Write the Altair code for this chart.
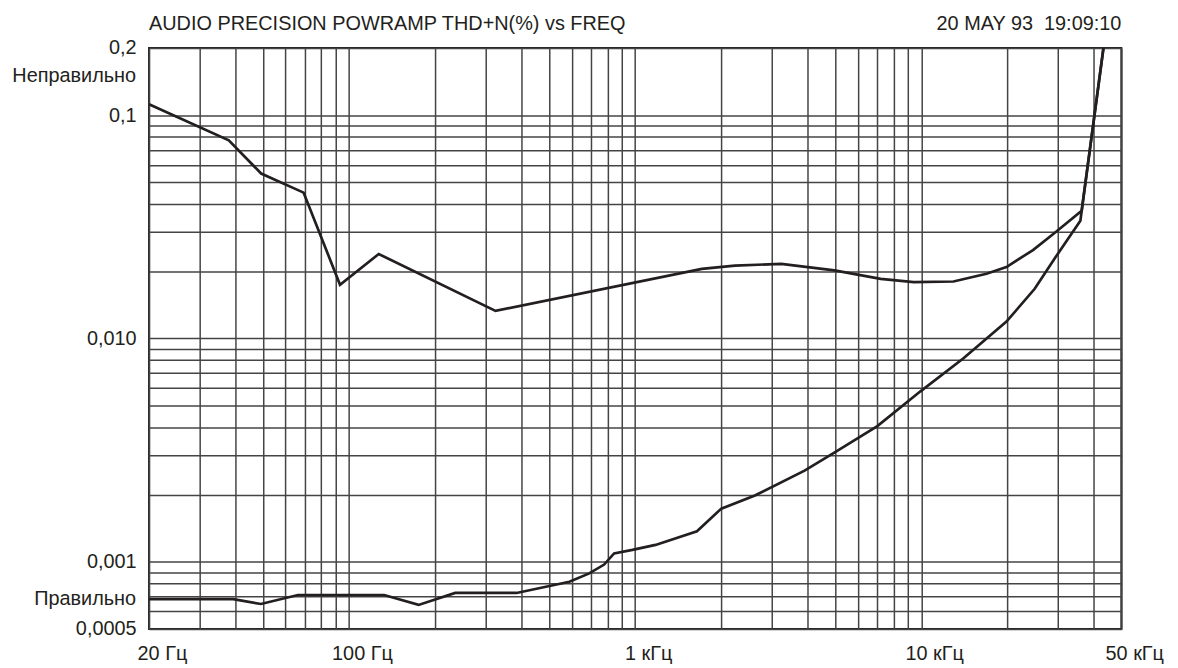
import altair as alt
import pandas as pd

# ---- data ----
upper_freq = [20, 38, 49.3, 69.4, 93, 127, 325, 1710, 2230, 3240, 4970, 7210, 9410,
              12950, 16900, 19840, 24560, 29430, 36330, 43300]
upper_thd = [0.112, 0.0772, 0.0548, 0.045, 0.0174, 0.0239, 0.0133, 0.0205, 0.0212, 0.0216,
             0.0202, 0.0185, 0.0179, 0.0180, 0.0195, 0.0209, 0.0249, 0.0299, 0.0373, 0.2]

lower_freq = [20, 39.4, 49.2, 66.3, 132.6, 175, 235, 385, 589, 691, 779, 844, 978, 1178,
              1644, 2000, 2620, 3908, 4966, 7020, 9931, 14040, 19840, 24900, 29430, 35960, 43300]
lower_thd = [0.00068, 0.00068, 0.000647, 0.00071, 0.00071, 0.000641, 0.000725, 0.000725,
             0.000814, 0.000887, 0.000972, 0.00109, 0.00113, 0.00119, 0.00137, 0.00173,
             0.00198, 0.00256, 0.00308, 0.00405, 0.0058, 0.00816, 0.0119, 0.0167, 0.0231,
             0.0337, 0.2]

x_grid = [20, 30, 40, 50, 60, 70, 80, 90, 100, 200, 300, 400, 500, 600, 700, 800, 900,
          1000, 2000, 3000, 4000, 5000, 6000, 7000, 8000, 9000, 10000, 20000, 30000, 40000, 50000]
y_grid = [0.0005, 0.0006, 0.0007, 0.0008, 0.0009, 0.001, 0.002, 0.003, 0.004, 0.005, 0.006,
          0.007, 0.008, 0.009, 0.01, 0.02, 0.03, 0.04, 0.05, 0.06, 0.07, 0.08, 0.09, 0.1, 0.2]

x_label_values = [20, 100, 1000, 10000, 50000]
x_label_texts = ["20 Гц", "100 Гц", "1 кГц", "10 кГц", "50 кГц"]
y_label_values = [0.2, 0.1, 0.01, 0.001, 0.0005]
y_label_texts = ["0,2", "0,1", "0,010", "0,001", "0,0005"]
side_label_values = [0.15, 0.00068]
side_label_texts = ["Неправильно", "Правильно"]
title_text = "AUDIO PRECISION POWRAMP THD+N(%) vs FREQ"
date_text = "20 MAY 93\u00a0\u00a019:09:10"

FONT = "Liberation Sans Narrow, Liberation Sans, Arial, sans-serif"
INK = "#231f20"
FS = 20


def label_expr(vals, texts):
    parts = [f"datum.value == {v} ? '{t}'" for v, t in zip(vals, texts)]
    return " : ".join(parts) + " : ''"


lines_df = pd.DataFrame({
    "freq": upper_freq + lower_freq,
    "thd": upper_thd + lower_thd,
    "series": ["upper"] * len(upper_freq) + ["lower"] * len(lower_freq),
})
side_df = pd.DataFrame({"thd": side_label_values, "label": side_label_texts})

xscale = alt.Scale(type="log", domain=[20, 50000], nice=False)
yscale = alt.Scale(type="log", domain=[0.0005, 0.2], nice=False)

x_axis = alt.Axis(values=x_grid, labelExpr=label_expr(x_label_values, x_label_texts),
                  title=None, labelAlign="center", labelOffset=13, labelPadding=15,
                  labelBaseline="top")
y_axis = alt.Axis(values=y_grid, labelExpr=label_expr(y_label_values, y_label_texts),
                  title=None, labelPadding=13, labelBaseline="middle")

lines = alt.Chart(lines_df).mark_line(color=INK, strokeWidth=2.7, clip=True).encode(
    x=alt.X("freq:Q", scale=xscale, axis=x_axis),
    y=alt.Y("thd:Q", scale=yscale, axis=y_axis),
    detail="series:N",
    order="freq:Q",
)

side = alt.Chart(side_df).mark_text(align="right", baseline="middle", font=FONT,
                                    fontSize=FS, color=INK).encode(
    y=alt.Y("thd:Q", scale=yscale, axis=y_axis),
    x=alt.value(-13),
    text="label:N",
)

title = alt.Chart(pd.DataFrame({"t": [title_text]})).mark_text(
    align="left", baseline="middle", font=FONT, fontSize=FS, color=INK).encode(
    x=alt.value(0), y=alt.value(-24), text="t:N")

date = alt.Chart(pd.DataFrame({"t": [date_text]})).mark_text(
    align="right", baseline="middle", font=FONT, fontSize=FS, color=INK).encode(
    x=alt.value(979), y=alt.value(-24), text="t:N")

chart = alt.layer(lines, side, title, date).properties(
    width=979, height=585,
    padding={"left": 142, "top": 38, "right": 49, "bottom": 37},
    autosize=alt.AutoSizeParams(type="none"),
    background="white",
).configure_view(
    stroke=INK, strokeWidth=2
).configure_axis(
    labelFont=FONT, labelFontSize=FS, labelColor=INK, ticks=False, domain=False,
    grid=True, gridColor="#444444", gridWidth=1.5, gridOpacity=1, labelOverlap=False,
    labelBound=False, labelFlush=False,
)

chart.save("out.html", embed_options={"renderer": "svg", "actions": False})
